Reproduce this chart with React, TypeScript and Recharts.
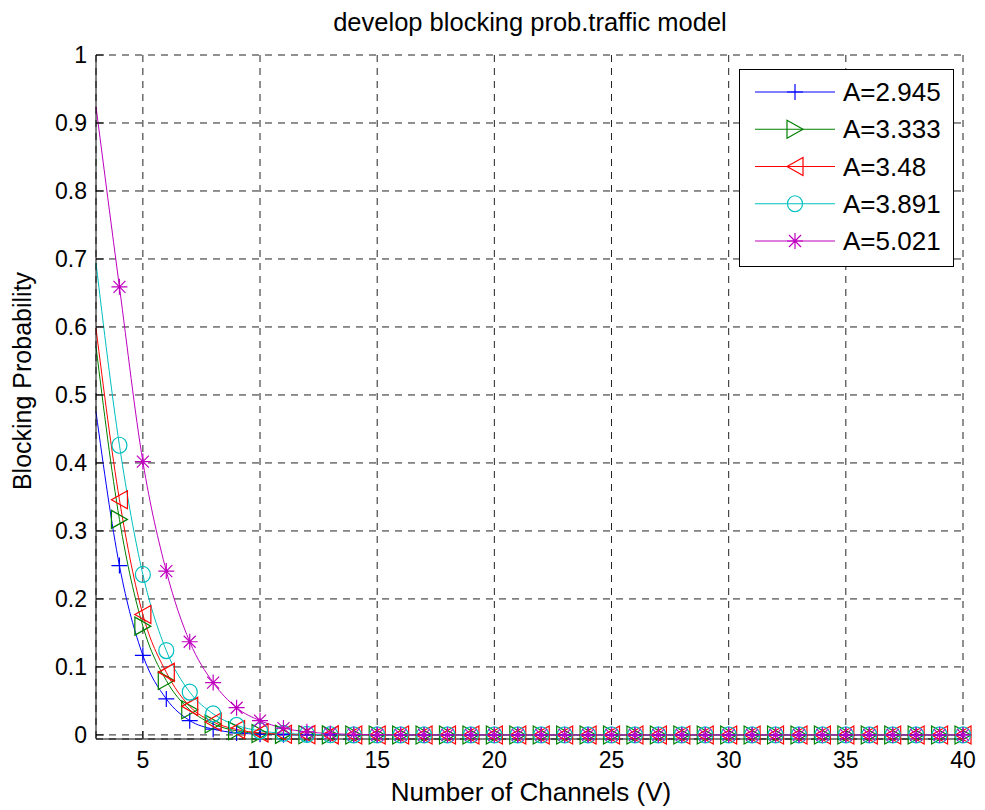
import React from 'react';
import { LineChart, Line, XAxis, YAxis, CartesianGrid, Legend, Label } from 'recharts';

const FONT = '"Liberation Sans", Arial, Helvetica, sans-serif';

// 38 channel counts: 3 .. 40
const channels = [
  3, 4, 5, 6, 7, 8, 9, 10, 11, 12,
  13, 14, 15, 16, 17, 18, 19, 20, 21, 22,
  23, 24, 25, 26, 27, 28, 29, 30, 31, 32,
  33, 34, 35, 36, 37, 38, 39, 40,
];

const blockA2945 = [
  0.475, 0.249, 0.117, 0.053, 0.021, 0.0085, 0.003, 0.001, 0.0003, 0.0001,
  0, 0, 0, 0, 0, 0, 0, 0, 0, 0,
  0, 0, 0, 0, 0, 0, 0, 0, 0, 0,
  0, 0, 0, 0, 0, 0, 0, 0,
];
const blockA3333 = [
  0.571, 0.317, 0.160, 0.080, 0.037, 0.016, 0.006, 0.002, 0.0008, 0.0003,
  0.0001, 0, 0, 0, 0, 0, 0, 0, 0, 0,
  0, 0, 0, 0, 0, 0, 0, 0, 0, 0,
  0, 0, 0, 0, 0, 0, 0, 0,
];
const blockA348 = [
  0.598, 0.346, 0.177, 0.092, 0.042, 0.019, 0.008, 0.003, 0.001, 0.0004,
  0.0001, 0, 0, 0, 0, 0, 0, 0, 0, 0,
  0, 0, 0, 0, 0, 0, 0, 0, 0, 0,
  0, 0, 0, 0, 0, 0, 0, 0,
];
const blockA3891 = [
  0.694, 0.426, 0.236, 0.124, 0.063, 0.031, 0.014, 0.006, 0.0024, 0.0009,
  0.0003, 0.0001, 0, 0, 0, 0, 0, 0, 0, 0,
  0, 0, 0, 0, 0, 0, 0, 0, 0, 0,
  0, 0, 0, 0, 0, 0, 0, 0,
];
const blockA5021 = [
  0.924, 0.659, 0.402, 0.241, 0.137, 0.077, 0.040, 0.021, 0.010, 0.0045,
  0.002, 0.0008, 0.0003, 0.0001, 0, 0, 0, 0, 0, 0,
  0, 0, 0, 0, 0, 0, 0, 0, 0, 0,
  0, 0, 0, 0, 0, 0, 0, 0,
];

const seriesKeys = ['a1', 'a2', 'a3', 'a4', 'a5'];
const seriesValues = [blockA2945, blockA3333, blockA348, blockA3891, blockA5021];
const seriesNames = ['A=2.945', 'A=3.333', 'A=3.48', 'A=3.891', 'A=5.021'];
const seriesColors = ['#0000ff', '#008000', '#ff0000', '#00bfbf', '#bf00bf'];
const seriesMarkers = ['plus', 'triRight', 'triLeft', 'circle', 'star'];

const xTicks = [5, 10, 15, 20, 25, 30, 35, 40];
const yTicks = [0, 0.1, 0.2, 0.3, 0.4, 0.5, 0.6, 0.7, 0.8, 0.9, 1];
const yTickLabels = ['0', '0.1', '0.2', '0.3', '0.4', '0.5', '0.6', '0.7', '0.8', '0.9', '1'];

const tableData = channels.map((ch, i) => {
  const row: Record<string, number> = { ch };
  seriesKeys.forEach((k, j) => { row[k] = seriesValues[j][i]; });
  return row;
});

function Marker({ kind, x, y, color }: { kind: string; x: number; y: number; color: string }) {
  const common = { fill: 'none', stroke: color, strokeWidth: 1.2 };
  switch (kind) {
    case 'plus':
      return <path d={`M${x - 8},${y}H${x + 8}M${x},${y - 8}V${y + 8}`} {...common} />;
    case 'triRight':
      return <polygon points={`${x - 8},${y - 9} ${x - 8},${y + 9} ${x + 8},${y}`} {...common} />;
    case 'triLeft':
      return <polygon points={`${x + 8},${y - 9} ${x + 8},${y + 9} ${x - 8},${y}`} {...common} />;
    case 'circle':
      return <ellipse cx={x} cy={y} rx={7.5} ry={8} {...common} />;
    default:
      return (
        <path
          d={`M${x - 8},${y}H${x + 8}M${x},${y - 8}V${y + 8}M${x - 6},${y - 6}L${x + 6},${y + 6}M${x - 6},${y + 6}L${x + 6},${y - 6}`}
          {...common}
        />
      );
  }
}

const makeDot = (kind: string, color: string) => (props: any) => {
  const { cx, cy, payload, index } = props;
  if (cx == null || cy == null || (payload && payload.ch === 3)) {
    return <g key={`d-${kind}-${index}`} />;
  }
  return (
    <g key={`d-${kind}-${index}`}>
      <Marker kind={kind} x={cx} y={cy} color={color} />
    </g>
  );
};

const renderLegend = () => (
  <svg width={215} height={198} style={{ display: 'block', overflow: 'visible' }}>
    <rect x={0.5} y={0.5} width={214} height={197} fill="#ffffff" stroke="#000000" strokeWidth={1} />
    {seriesNames.map((name, i) => {
      const y = 23 + i * 37.25;
      return (
        <g key={name}>
          <line x1={16} x2={96} y1={y} y2={y} stroke={seriesColors[i]} strokeWidth={1} />
          <Marker kind={seriesMarkers[i]} x={56} y={y} color={seriesColors[i]} />
          <text x={104} y={y} dominantBaseline="central" fontSize={26} fontFamily={FONT} fill="#000">
            {name}
          </text>
        </g>
      );
    })}
  </svg>
);

export default function App() {
  return (
    <div style={{ position: 'absolute', left: 0, top: 0, width: 985, height: 810, background: '#fff', fontFamily: FONT }}>
      <div
        style={{
          position: 'absolute', left: 230, top: 8, width: 600, textAlign: 'center',
          fontSize: 25.5, lineHeight: '28px', color: '#000', fontFamily: FONT,
        }}
      >
        develop blocking prob.traffic model
      </div>
      <LineChart width={985} height={810} data={tableData} margin={{ top: 55, right: 22, bottom: 0, left: 0 }}>
        <CartesianGrid stroke="#222222" strokeDasharray="7 6" strokeWidth={1} />
        <XAxis
          dataKey="ch" type="number" domain={[3, 40]} ticks={xTicks}
          height={71} tickSize={-8} tickMargin={21} stroke="#000"
          tick={{ fontSize: 23, fill: '#000', fontFamily: FONT }}
        >
          <Label
            content={() => (
              <text x={531} y={801} textAnchor="middle" fontSize={26} fontFamily={FONT} fill="#000">
                Number of Channels (V)
              </text>
            )}
          />
        </XAxis>
        <XAxis
          xAxisId="top" orientation="top" dataKey="ch" type="number" domain={[3, 40]} ticks={xTicks}
          height={0} tickSize={-8} tick={false} stroke="#000"
        />
        <YAxis
          type="number" domain={[-0.006, 1]} ticks={yTicks} width={96}
          tickSize={-8} tickMargin={17} stroke="#000"
          tickFormatter={(v: number) => yTickLabels[yTicks.indexOf(v)] ?? String(v)}
          tick={{ fontSize: 23, fill: '#000', fontFamily: FONT }}
        >
          <Label
            content={() => (
              <text
                x={22} y={381} transform="rotate(-90 22 381)" textAnchor="middle"
                dominantBaseline="central" fontSize={25} fontFamily={FONT} fill="#000"
              >
                Blocking Probability
              </text>
            )}
          />
        </YAxis>
        <YAxis
          yAxisId="right" orientation="right" type="number" domain={[-0.006, 1]} ticks={yTicks}
          width={0} tickSize={-8} tick={false} stroke="#000"
        />
        {seriesKeys.map((k, i) => (
          <Line
            key={k}
            dataKey={k}
            name={seriesNames[i]}
            type="monotone"
            stroke={seriesColors[i]}
            strokeWidth={1}
            dot={makeDot(seriesMarkers[i], seriesColors[i])}
            activeDot={false}
            isAnimationActive={false}
          />
        ))}
        <Legend
          layout="vertical" align="center" verticalAlign="middle"
          content={renderLegend}
          wrapperStyle={{ position: 'absolute', left: 739, top: 69, width: 215, height: 198, margin: 0, padding: 0, lineHeight: 0 }}
        />
      </LineChart>
    </div>
  );
}
